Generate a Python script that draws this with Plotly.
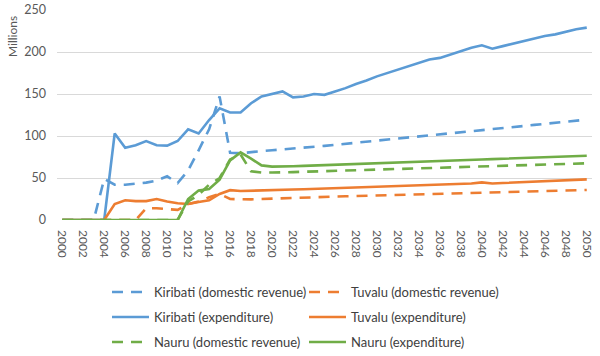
import plotly.graph_objects as go

years = list(range(2000, 2051))

kiribati_rev = [0, 0, 0, 0, 49, 42, 42, 43, 44.5, 47, 52, 44, 59, 83, 108, 147, 80, 79.5, 81, 82, 83, 84, 84.5,
                85.7, 87, 88.2, 89.5, 90.7, 92, 93.2, 94.5, 95.7, 97, 98.2, 99.5, 100.7, 102, 103.2, 104.5, 105.7,
                107, 108.2, 109.5, 110.7, 112, 113.2, 114.5, 115.7, 117, 118.2, 119.5]
kiribati_exp = [0, 0, 0, 0, 0, 103, 86, 89, 94, 89, 88.5, 94, 108, 103, 119, 133, 128, 128, 139, 147, 150, 153, 146,
                147, 150, 149, 153, 157, 162, 166, 171, 175, 179, 183, 187, 191, 193, 197, 201, 205, 208, 204, 207,
                210, 213, 216, 219, 221, 224, 227, 229]
tuvalu_rev = [0, 0, 0, 0, 0, 0, 0, 0, 14, 14, 13, 12, 19, 22, 27, 31, 25, 24.5, 24.5, 25, 25.5, 26, 26.5,
              26.8, 27.2, 27.5, 27.8, 28.2, 28.5, 28.8, 29.2, 29.5, 29.8, 30.2, 30.5, 30.8, 31.2, 31.5, 31.8, 32.2,
              32.5, 32.8, 33.2, 33.5, 33.8, 34.2, 34.5, 34.8, 35.2, 35.5, 35.8]
tuvalu_exp = [0, 0, 0, 0, 0, 19, 23.5, 22.5, 22.5, 25, 22, 20, 19, 21.5, 23.5, 31, 35.5, 34.5, 35, 35.3, 35.7, 36, 36.3,
              36.6, 37, 37.3, 37.8, 38.2, 38.6, 39, 39.4, 39.8, 40.2, 40.6, 41, 41.4, 41.8, 42.3, 42.8, 43.5,
              44.8, 43.5, 44, 44.5, 45, 45.5, 46, 46.6, 47.2, 47.8, 48.4]
nauru_rev = [0, 0, 0, 0, 0, 0, 0, 0, 0, 0, 0, 0, 22, 30, 42, 50, 72, 78, 58, 56.5, 56.5, 56.5, 57,
             57.4, 57.8, 58.1, 58.5, 58.9, 59.3, 59.6, 60, 60.4, 60.8, 61.1, 61.5, 61.9, 62.3, 62.6, 63, 63.4,
             63.8, 64.1, 64.5, 64.9, 65.3, 65.6, 66, 66.4, 66.8, 67.1, 67.5]
nauru_exp = [0, 0, 0, 0, 0, 0, 0, 0, 0, 0, 0, 0, 25, 35, 37, 48, 71, 80.5, 73, 65, 63.5, 63.5, 64,
             64.4, 64.9, 65.3, 65.8, 66.2, 66.7, 67.1, 67.6, 68, 68.5, 68.9, 69.4, 69.8, 70.3, 70.7, 71.2, 71.6,
             72.1, 72.5, 73, 73.4, 73.9, 74.3, 74.8, 75.2, 75.7, 76.1, 76.5]

y_ticks = [0, 50, 100, 150, 200, 250]
x_ticks = list(range(2000, 2051, 2))

BLUE, ORANGE, GREEN = "#5B9BD5", "#ED7D31", "#70AD47"
DASH = "11px,8px"

W, H = 600, 356
L, T, PW, PH = 57, 10, 535, 210
B = H - T - PH
R = W - L - PW
BOT = T + PH

COL_X = [(107 - L) / PW, (304 - L) / PW]
ROW_Y = [(BOT - 292) / PH, (BOT - 317) / PH, (BOT - 342) / PH]

# name, values, colour, dash, legend column, legend row
series = [
    ("Kiribati (domestic revenue)", kiribati_rev, BLUE, DASH, 0, 0),
    ("Tuvalu (domestic revenue)", tuvalu_rev, ORANGE, DASH, 1, 0),
    ("Kiribati (expenditure)", kiribati_exp, BLUE, "solid", 0, 1),
    ("Tuvalu (expenditure)", tuvalu_exp, ORANGE, "solid", 1, 1),
    ("Nauru (domestic revenue)", nauru_rev, GREEN, DASH, 0, 2),
    ("Nauru (expenditure)", nauru_exp, GREEN, "solid", 1, 2),
]

FONT = "Lato"
fig = go.Figure()
legends = {}
for i, (name, vals, col, dash, c, r) in enumerate(series):
    key = "legend" if i == 0 else f"legend{i + 1}"
    fig.add_trace(go.Scatter(x=years, y=vals, mode="lines", name=name,
                             line=dict(color=col, width=2.6, dash=dash), legend=key))
    legends[key] = dict(x=COL_X[c], y=ROW_Y[r], xanchor="left", yanchor="middle",
                        font=dict(family=FONT, size=13, color="#404040"), itemwidth=37,
                        bgcolor="rgba(0,0,0,0)", borderwidth=0)

fig.update_layout(
    width=W, height=H,
    margin=dict(l=L, r=R, t=T, b=B, autoexpand=False),
    paper_bgcolor="white", plot_bgcolor="white",
    font=dict(family=FONT, size=12, color="#595959"),
    showlegend=True,
    xaxis=dict(range=[1999.5, 2050.5], tickmode="array", tickvals=x_ticks, ticktext=[str(v) for v in x_ticks],
               tickangle=90, showgrid=False, zeroline=False, showline=False, ticks="", automargin=False,
               ticklabelstandoff=9,
               tickfont=dict(family=FONT, size=12, color="#595959")),
    yaxis=dict(range=[0, 250], tickmode="array", tickvals=y_ticks, showgrid=True, gridcolor="#D9D9D9",
               gridwidth=1, zeroline=False, showline=False, ticks="", ticklabelstandoff=10, automargin=False,
               tickfont=dict(family=FONT, size=12.5, color="#595959")),
    annotations=[dict(text="Millions", textangle=-90, xref="paper", yref="paper",
                      x=-(L - 12) / PW, y=(BOT - 37) / PH, xanchor="center", yanchor="middle",
                      showarrow=False, font=dict(family=FONT, size=12, color="#595959"))],
)
fig.update_layout(**legends)

fig.write_html("out.html", config={"displayModeBar": False},
               post_script="document.body.style.margin='0';")
